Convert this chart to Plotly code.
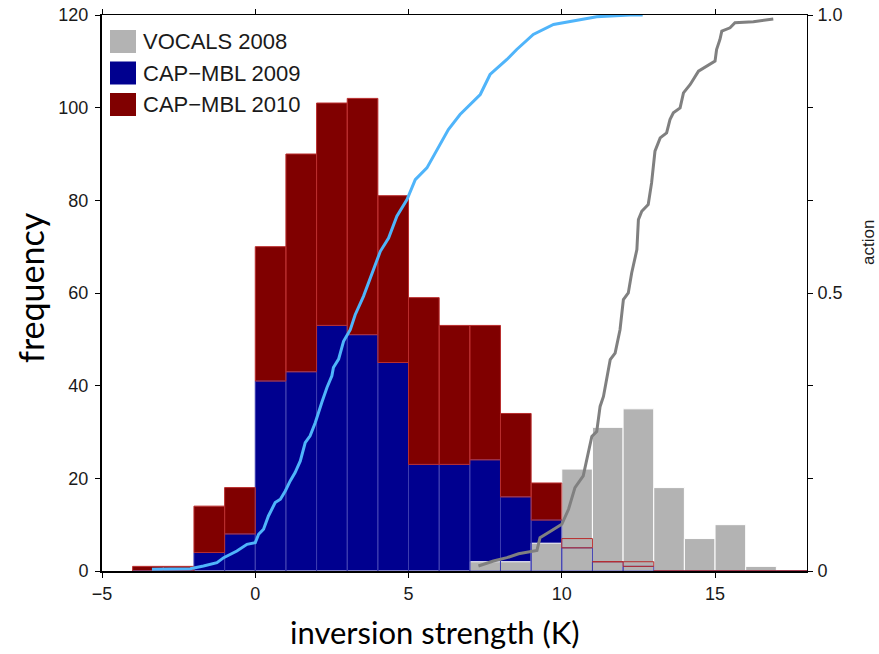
import plotly.graph_objects as go

# ---------------- data ----------------
bin_left = list(range(-4, 18))           # 1-K bins from -4 to 18
cap2009 = [0, 0, 4, 8, 41, 43, 53, 51, 45, 23, 23, 24, 16, 11, 5, 2, 1, 0, 0, 0, 0, 0]
cap2010 = [1, 1, 10, 10, 29, 47, 48, 51, 36, 36, 30, 29, 18, 8, 2, 0, 1, 0, 0, 0, 0, 0]
vocals2008 = [0, 0, 0, 0, 0, 0, 0, 0, 0, 0, 0, 2, 2, 6, 22, 31, 35, 18, 7, 10, 1, 0]

cap_cdf_x = [-3.37, -2.12, -1.69, -1.25, -1.03, -0.60, -0.27, 0.0, 0.11, 0.27, 0.43, 0.65, 0.82,
             0.98, 1.14, 1.30, 1.47, 1.63, 1.79, 1.96, 2.17, 2.34, 2.50, 2.55, 2.72, 2.88, 3.10,
             3.26, 3.53, 3.86, 4.08, 4.35, 4.62, 4.95, 5.22, 5.60, 5.93, 6.30, 6.68, 7.34, 7.66,
             8.21, 8.53, 9.07, 9.73, 10.49, 11.14, 12.23, 12.64]
cap_cdf_y = [0.003, 0.004, 0.009, 0.015, 0.024, 0.036, 0.048, 0.051, 0.066, 0.075, 0.099, 0.123,
             0.129, 0.144, 0.162, 0.177, 0.198, 0.231, 0.243, 0.267, 0.303, 0.330, 0.351, 0.366,
             0.381, 0.413, 0.434, 0.461, 0.494, 0.542, 0.575, 0.599, 0.638, 0.668, 0.704, 0.725,
             0.758, 0.794, 0.821, 0.857, 0.893, 0.920, 0.938, 0.965, 0.983, 0.991, 0.997, 1.0, 1.0]

voc_cdf_x = [7.28, 7.77, 8.21, 8.59, 9.19, 9.29, 9.62, 10.0, 10.22, 10.43, 10.70, 10.82, 10.98,
             11.14, 11.25, 11.36, 11.58, 11.74, 11.90, 12.01, 12.17, 12.28, 12.45, 12.50, 12.61,
             12.82, 12.93, 13.04, 13.21, 13.42, 13.53, 13.64, 13.86, 13.97, 14.19, 14.46, 14.84,
             15.0, 15.05, 15.16, 15.22, 15.49, 15.65, 16.25, 16.90]
voc_cdf_y = [0.009, 0.018, 0.024, 0.031, 0.037, 0.060, 0.071, 0.084, 0.111, 0.150, 0.171, 0.201,
             0.242, 0.251, 0.296, 0.314, 0.380, 0.392, 0.434, 0.488, 0.500, 0.536, 0.578, 0.632,
             0.647, 0.659, 0.698, 0.755, 0.779, 0.788, 0.812, 0.824, 0.833, 0.860, 0.875, 0.899,
             0.911, 0.917, 0.938, 0.956, 0.971, 0.977, 0.986, 0.988, 0.993]

legend_names = ["VOCALS 2008", "CAP\u2212MBL 2009", "CAP\u2212MBL 2010"]
x_ticks = [-5, 0, 5, 10, 15]
x_ticktext = ["\u22125", "0", "5", "10", "15"]
y_ticks = [0, 20, 40, 60, 80, 100, 120]
y2_ticks = [0, 1/6, 2/6, 3/6, 4/6, 5/6, 1]
y2_ticktext = ["0", "", "", "0.5", "", "", "1.0"]

# ---------------- style ----------------
BLUE = "#00008f"
RED = "#800000"
GRAY = "#b3b3b3"
CDF_BLUE = "#4fb4fa"
CDF_GRAY = "#808080"
TICKFONT = dict(family="Liberation Sans, Arial, sans-serif", size=18, color="#1a1a1a")
TITLEFONT = "Lato, Carlito, Calibri, sans-serif"

L, R, T, B = 102, 72, 15, 83
PW, PH = 879 - L - R, 654 - T - B


def px(xp):
    return (xp - L) / PW


def py(yp):
    return (654 - B - yp) / PH


centers = [b + 0.5 for b in bin_left]

fig = go.Figure()
fig.add_bar(x=centers, y=cap2009, width=1, marker=dict(color=BLUE, line=dict(width=0)),
            showlegend=False, hoverinfo="skip")
fig.add_bar(x=centers, y=cap2010, base=cap2009, width=1, marker=dict(color=RED, line=dict(width=0)),
            showlegend=False, hoverinfo="skip")
fig.add_bar(x=centers, y=vocals2008, width=1,
            marker=dict(color=GRAY, line=dict(color="white", width=1)),
            showlegend=False, hoverinfo="skip")
fig.add_bar(x=centers, y=cap2009, width=1,
            marker=dict(color="rgba(0,0,0,0)", line=dict(color="rgb(60,60,175)", width=1)),
            showlegend=False, hoverinfo="skip")
fig.add_bar(x=centers, y=cap2010, base=cap2009, width=1,
            marker=dict(color="rgba(0,0,0,0)", line=dict(color="rgb(185,45,45)", width=1)),
            showlegend=False, hoverinfo="skip")

fig.add_scatter(x=cap_cdf_x, y=cap_cdf_y, yaxis="y2", mode="lines",
                line=dict(color=CDF_BLUE, width=3), cliponaxis=False, showlegend=False)
fig.add_scatter(x=voc_cdf_x, y=voc_cdf_y, yaxis="y2", mode="lines",
                line=dict(color=CDF_GRAY, width=3), cliponaxis=False, showlegend=False)
fig.add_scatter(x=[None], y=[None], xaxis="x2", showlegend=False, hoverinfo="skip")

fig.update_layout(
    width=879, height=654,
    margin=dict(l=L, r=R, t=T, b=B, autoexpand=False),
    paper_bgcolor="white", plot_bgcolor="white",
    barmode="overlay",
    showlegend=False,
    xaxis=dict(range=[-5, 18], tickvals=x_ticks, ticktext=x_ticktext, ticks="outside",
               ticklen=5, tickcolor="black", showline=True, linecolor="black", linewidth=2,
               showgrid=False, zeroline=False, tickfont=TICKFONT, layer="below traces",
               automargin=False),
    xaxis2=dict(range=[-5, 18], overlaying="x", side="top", tickvals=x_ticks,
                showticklabels=False, ticks="outside", ticklen=5, tickcolor="black",
                showline=True, linecolor="black", linewidth=1, showgrid=False, zeroline=False,
                automargin=False),
    yaxis=dict(range=[0, 120], tickvals=y_ticks, ticks="outside", ticklen=5, tickcolor="black",
               showline=True, linecolor="black", linewidth=2, showgrid=False, zeroline=False,
               tickfont=TICKFONT, automargin=False, ticklabelstandoff=3),
    yaxis2=dict(range=[0, 1], overlaying="y", side="right", tickvals=y2_ticks,
                ticktext=y2_ticktext, ticks="outside", ticklen=5, tickcolor="black",
                showline=True, linecolor="black", linewidth=1, showgrid=False, zeroline=False,
                tickfont=TICKFONT, automargin=False, ticklabelstandoff=1),
)

# axis titles
fig.add_annotation(text="inversion strength (K)", xref="paper", yref="paper", x=px(435), y=py(632),
                   xanchor="center", yanchor="middle", showarrow=False,
                   font=dict(family=TITLEFONT, size=31, color="black"))
fig.add_annotation(text="frequency", xref="paper", yref="paper", x=px(31), y=py(288), textangle=-90,
                   xanchor="center", yanchor="middle", showarrow=False,
                   font=dict(family=TITLEFONT, size=34, color="black"))
fig.add_annotation(text="action", xref="paper", yref="paper", x=px(868), y=py(243), textangle=-90,
                   xanchor="center", yanchor="middle", showarrow=False,
                   font=dict(family="Liberation Sans, Arial, sans-serif", size=17, color="#1a1a1a"))

# legend (manual, large swatches)
legend_colors = [GRAY, BLUE, RED]
for i, (name, col) in enumerate(zip(legend_names, legend_colors)):
    top = 30 + i * 31.5
    fig.add_shape(type="rect", xref="paper", yref="paper",
                  x0=px(110), x1=px(136), y0=py(top + 23), y1=py(top),
                  line=dict(width=0), fillcolor=col)
    fig.add_annotation(text=name, xref="paper", yref="paper", x=px(141),
                       y=py(top + 11.5), xanchor="left", yanchor="middle",
                       showarrow=False,
                       font=dict(family="Liberation Sans, Arial, sans-serif", size=22,
                                 color="#1a1a1a"))

fig.write_html("out.html")
